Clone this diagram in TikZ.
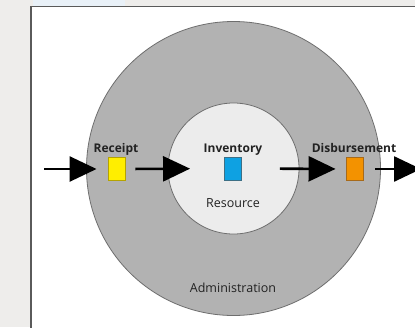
\documentclass[tikz,border=0pt]{standalone}
\usepackage{fontspec}
\setmainfont{Open Sans}
\usetikzlibrary{arrows.meta}
\definecolor{bgtex}{HTML}{EEEDEB}
\definecolor{stripblue}{HTML}{E9F1F8}
\definecolor{panelborder}{HTML}{5A5A5A}
\definecolor{outerfill}{HTML}{B2B2B2}
\definecolor{innerfill}{HTML}{ECECEC}
\definecolor{ringline}{HTML}{6E6E6E}
\definecolor{recfill}{HTML}{FFEE00}
\definecolor{recline}{HTML}{B5A300}
\definecolor{invfill}{HTML}{0EA1E2}
\definecolor{invline}{HTML}{3D6F85}
\definecolor{disfill}{HTML}{F39200}
\definecolor{disline}{HTML}{A76A1A}
\definecolor{txt}{HTML}{222222}
\tikzset{
  ring/.style={circle, draw=ringline, line width=0.8pt, inner sep=0pt},
  stockbox/.style={rectangle, line width=0.9pt, minimum width=17pt, minimum height=23pt, inner sep=0pt},
  flowarrow/.style={line width=2.6pt, -{Triangle[length=27pt,width=25pt]}},
  boldlabel/.style={font=\fontsize{12}{14}\selectfont\bfseries, text=txt, inner sep=0pt},
  plainlabel/.style={font=\fontsize{12.5}{15}\selectfont, text=txt, inner sep=0pt}
}
\begin{document}
\begin{tikzpicture}[x=1pt,y=-1pt]
\useasboundingbox (0,0) rectangle (415,327);
\begin{scope}
\clip (0,0) rectangle (415,327);
\fill[bgtex] (0,0) rectangle (415,327);
\fill[stripblue] (33,0) rectangle (125,6.5);
\fill[white] (31,6.5) rectangle (420,330);
\draw[panelborder, line width=1.2pt] (31,330) -- (31,6.5) -- (420,6.5);
\node[ring, fill=outerfill, minimum size=294pt] (admin) at (233.5,168.5) {};
\node[ring, fill=innerfill, minimum size=131pt] (resource) at (233.5,168.5) {};
\node[stockbox, fill=recfill, draw=recline] (rec) at (116.5,169) {};
\node[stockbox, fill=invfill, draw=invline] (inv) at (233,168.5) {};
\node[stockbox, fill=disfill, draw=disline] (dis) at (354.5,169) {};
\node[boldlabel, anchor=base] (reclab) at (116,152) {Receipt};
\node[boldlabel, anchor=base] (invlab) at (233,152) {Inventory};
\node[boldlabel, anchor=base] (dislab) at (354,152) {Disbursement};
\node[plainlabel] (reslab) at (233,203) {Resource};
\node[plainlabel] (admlab) at (233,287.5) {Administration};
\coordinate (src) at (44,169);
\coordinate (sink) at (440,169);
\draw[flowarrow, shorten >=11pt] (src) -- (rec.west);
\draw[flowarrow, shorten <=10pt, shorten >=34pt] (rec.east) -- (inv.west);
\draw[flowarrow, shorten <=38pt, shorten >=10pt] (inv.east) -- (dis.west);
\draw[flowarrow, shorten <=12pt, shorten >=19pt] (dis.east) -- (sink);
\end{scope}
\end{tikzpicture}
\end{document}
